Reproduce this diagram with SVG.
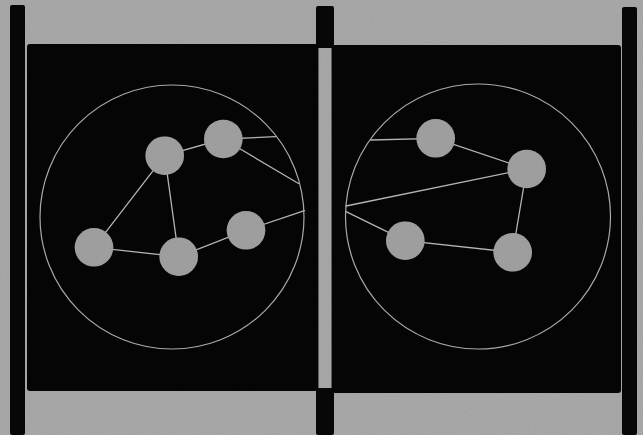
<svg xmlns="http://www.w3.org/2000/svg" width="643" height="435" viewBox="0 0 643 435">
  <defs>
    <filter id="grain" x="0" y="0" width="100%" height="100%">
      <feTurbulence type="fractalNoise" baseFrequency="0.9" numOctaves="2" seed="3" result="n"/>
      <feColorMatrix in="n" type="matrix" values="0 0 0 0 0.5  0 0 0 0 0.5  0 0 0 0 0.5  0 0 0 0.28 0" result="g"/>
      <feComposite in="g" in2="SourceGraphic" operator="in" result="gc"/>
      <feBlend in="SourceGraphic" in2="gc" mode="multiply"/>
    </filter>
    <style>
      .paper { fill: #ababab; }
      .bar { fill: #070707; }
      .panel { fill: #050505; }
      .ring { fill: none; stroke: #a9a9a9; stroke-width: 1.2; }
      .node { fill: #a3a3a3; }
      .edge { stroke: #b4b4b4; stroke-width: 1.3; fill: none; stroke-linecap: round; }
    </style>
  </defs>

  <rect class="paper" x="0" y="0" width="643" height="435" filter="url(#grain)"/>

  <!-- frame bars -->
  <rect class="bar" x="10" y="5" width="15" height="430" rx="2"/>
  <rect class="bar" x="316" y="6" width="18" height="429" rx="2"/>
  <rect class="bar" x="622" y="7" width="15" height="428" rx="2"/>

  <!-- panels -->
  <rect class="panel" x="27" y="44" width="291" height="347" rx="3"/>
  <rect class="panel" x="332" y="45" width="289" height="348" rx="3"/>
  <rect class="paper" x="318.5" y="48" width="13" height="340" filter="url(#grain)"/>

  <!-- rings -->
  <circle class="ring" cx="172" cy="217" r="132"/>
  <circle class="ring" cx="478" cy="216.5" r="132.5"/>

  <g id="connectors">
    <line class="edge" x1="164.7" y1="155.7" x2="223.3" y2="139"/>
    <line class="edge" x1="223.3" y1="139" x2="275.5" y2="136.7"/>
    <line class="edge" x1="223.3" y1="139" x2="298.5" y2="183.5"/>
    <line class="edge" x1="164.7" y1="155.7" x2="94" y2="247.3"/>
    <line class="edge" x1="164.7" y1="155.7" x2="178.7" y2="256.7"/>
    <line class="edge" x1="94" y1="247.3" x2="178.7" y2="256.7"/>
    <line class="edge" x1="178.7" y1="256.7" x2="246" y2="230.3"/>
    <line class="edge" x1="246" y1="230.3" x2="304.5" y2="210.7"/>

    <line class="edge" x1="435.7" y1="138.3" x2="370.7" y2="140"/>
    <line class="edge" x1="435.7" y1="138.3" x2="526.7" y2="169"/>
    <line class="edge" x1="526.7" y1="169" x2="346" y2="206"/>
    <line class="edge" x1="346" y1="211.7" x2="405.3" y2="240.7"/>
    <line class="edge" x1="405.3" y1="240.7" x2="512.7" y2="252.3"/>
    <line class="edge" x1="526.7" y1="169" x2="512.7" y2="252.3"/>
  </g>

  <g id="n1"><circle class="node" cx="164.7" cy="155.7" r="19.3" filter="url(#grain)"/></g>
  <g id="n2"><circle class="node" cx="223.3" cy="139" r="19.3" filter="url(#grain)"/></g>
  <g id="n3"><circle class="node" cx="94" cy="247.3" r="19.3" filter="url(#grain)"/></g>
  <g id="n4"><circle class="node" cx="178.7" cy="256.7" r="19.3" filter="url(#grain)"/></g>
  <g id="n5"><circle class="node" cx="246" cy="230.3" r="19.3" filter="url(#grain)"/></g>

  <g id="n6"><circle class="node" cx="435.7" cy="138.3" r="19.3" filter="url(#grain)"/></g>
  <g id="n7"><circle class="node" cx="526.7" cy="169" r="19.3" filter="url(#grain)"/></g>
  <g id="n8"><circle class="node" cx="405.3" cy="240.7" r="19.3" filter="url(#grain)"/></g>
  <g id="n9"><circle class="node" cx="512.7" cy="252.3" r="19.3" filter="url(#grain)"/></g>
</svg>
